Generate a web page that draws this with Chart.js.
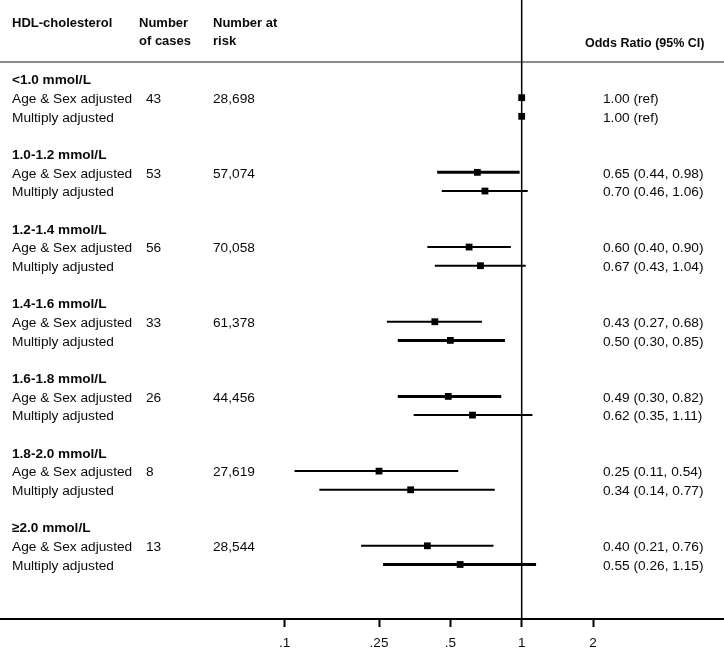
<!DOCTYPE html>
<html>
<head>
<meta charset="utf-8">
<script src="https://cdn.jsdelivr.net/npm/chart.js@4.4.0/dist/chart.umd.min.js"></script>
<style>
    html, body { margin: 0; padding: 0; background: #ffffff; }
    #wrap { position: relative; width: 724px; height: 649px; }
</style>
</head>
<body>
<div id="wrap"><canvas id="forest"></canvas></div>
<script>
// Dados do gráfico
const groups = ['<1.0 mmol/L', '1.0-1.2 mmol/L', '1.2-1.4 mmol/L', '1.4-1.6 mmol/L', '1.6-1.8 mmol/L', '1.8-2.0 mmol/L', '≥2.0 mmol/L'];
const cases = [43, 53, 56, 33, 26, 8, 13];
const atRisk = ['28,698', '57,074', '70,058', '61,378', '44,456', '27,619', '28,544'];
const ageSexOR = [1.00, 0.65, 0.60, 0.43, 0.49, 0.25, 0.40];
const ageSexLo = [null, 0.44, 0.40, 0.27, 0.30, 0.11, 0.21];
const ageSexHi = [null, 0.98, 0.90, 0.68, 0.82, 0.54, 0.76];
const multiOR = [1.00, 0.70, 0.67, 0.50, 0.62, 0.34, 0.55];
const multiLo = [null, 0.46, 0.43, 0.30, 0.35, 0.14, 0.26];
const multiHi = [null, 1.06, 1.04, 0.85, 1.11, 0.77, 1.15];
const tickValues = [0.1, 0.25, 0.5, 1, 2];
const tickLabels = ['.1', '.25', '.5', '1', '2'];

// Estilo (espessura das linhas de IC)
const ageSexWidth = [2, 3, 2, 2, 3, 2, 2];
const multiWidth = [2, 2, 2, 3, 2, 2, 3];

const FONT = '"Liberation Sans", Arial, Helvetica, sans-serif';
const X_MIN = 0.00629, X_MAX = 7.14;
const Y_MIN = -4.23, Y_MAX = 28.92;
const TEXT_SHIFT = 1.5;

function fmt(v) { return v.toFixed(2); }
function orText(or, lo, hi) {
    return lo === null ? fmt(or) + ' (ref)' : fmt(or) + ' (' + fmt(lo) + ', ' + fmt(hi) + ')';
}

// Montar datasets
const datasets = [];
const markers = [];
groups.forEach((g, i) => {
    const rAge = i * 4 + 1;
    const rMul = i * 4 + 2;
    if (ageSexLo[i] !== null) {
        datasets.push({ type: 'line', data: [{ x: ageSexLo[i], y: rAge }, { x: ageSexHi[i], y: rAge }],
            borderColor: '#000', borderWidth: ageSexWidth[i], pointRadius: 0 });
    }
    if (multiLo[i] !== null) {
        datasets.push({ type: 'line', data: [{ x: multiLo[i], y: rMul }, { x: multiHi[i], y: rMul }],
            borderColor: '#000', borderWidth: multiWidth[i], pointRadius: 0 });
    }
    markers.push({ x: ageSexOR[i], y: rAge });
    markers.push({ x: multiOR[i], y: rMul });
});

// Linha de referência em OR = 1
datasets.push({ type: 'line', data: [{ x: 1, y: Y_MIN }, { x: 1, y: Y_MAX }],
    borderColor: '#000', borderWidth: 1.5, pointRadius: 0 });

datasets.push({ type: 'scatter', data: markers, pointStyle: 'rect', pointRadius: 4.8,
    backgroundColor: '#000', borderWidth: 0 });

// Plugin para textos da tabela
const tablePlugin = {
    id: 'tableText',
    beforeDatasetsDraw(chart) {
        const ctx = chart.ctx;
        ctx.save();
        ctx.strokeStyle = '#8c8c8c';
        ctx.lineWidth = 2;
        ctx.beginPath();
        ctx.moveTo(0, 62);
        ctx.lineTo(chart.width, 62);
        ctx.stroke();
        ctx.restore();
    },
    afterDatasetsDraw(chart) {
        const ctx = chart.ctx;
        const ys = chart.scales.y;
        ctx.save();
        ctx.fillStyle = '#0a0a0a';
        ctx.textBaseline = 'middle';
        ctx.textAlign = 'left';

        ctx.font = 'bold 13px ' + FONT;
        ctx.fillText('HDL-cholesterol', 12, 23);
        ctx.fillText('Number', 139, 23);
        ctx.fillText('of cases', 139, 41);
        ctx.fillText('Number at', 213, 23);
        ctx.fillText('risk', 213, 41);
        ctx.font = 'bold 12.5px ' + FONT;
        ctx.fillText('Odds Ratio (95% CI)', 585, 44);

        groups.forEach((g, i) => {
            const yHead = ys.getPixelForValue(i * 4) + TEXT_SHIFT;
            const yAge = ys.getPixelForValue(i * 4 + 1) + TEXT_SHIFT;
            const yMul = ys.getPixelForValue(i * 4 + 2) + TEXT_SHIFT;
            ctx.font = 'bold 13.6px ' + FONT;
            ctx.fillText(g, 12, yHead);
            ctx.font = '13.7px ' + FONT;
            ctx.fillText('Age & Sex adjusted', 12, yAge);
            ctx.fillText(String(cases[i]), 146, yAge);
            ctx.fillText(atRisk[i], 213, yAge);
            ctx.fillText('Multiply adjusted', 12, yMul);
            ctx.fillText(orText(ageSexOR[i], ageSexLo[i], ageSexHi[i]), 603, yAge);
            ctx.fillText(orText(multiOR[i], multiLo[i], multiHi[i]), 603, yMul);
        });
        ctx.restore();
    }
};

new Chart(document.getElementById('forest'), {
    type: 'line',
    data: { datasets: datasets },
    options: {
        responsive: true,
        maintainAspectRatio: false,
        animation: false,
        layout: { padding: 0, autoPadding: false },
        plugins: { legend: { display: false }, tooltip: { enabled: false } },
        scales: {
            x: {
                type: 'logarithmic',
                min: X_MIN,
                max: X_MAX,
                afterBuildTicks: (scale) => {
                    scale.ticks = tickValues.map(v => ({ value: v }));
                },
                afterFit: (scale) => { scale.height = 30; },
                ticks: {
                    autoSkip: false,
                    maxRotation: 0,
                    padding: 8,
                    color: '#0a0a0a',
                    font: { family: FONT, size: 13.5 },
                    callback: (value, index) => tickLabels[index]
                },
                grid: {
                    drawOnChartArea: false,
                    drawTicks: true,
                    tickLength: 8,
                    tickWidth: 2,
                    tickColor: '#000'
                },
                border: { display: true, color: '#000', width: 2 }
            },
            y: {
                type: 'linear',
                reverse: true,
                min: Y_MIN,
                max: Y_MAX,
                display: false
            }
        }
    },
    plugins: [tablePlugin]
});
</script>
</body>
</html>
